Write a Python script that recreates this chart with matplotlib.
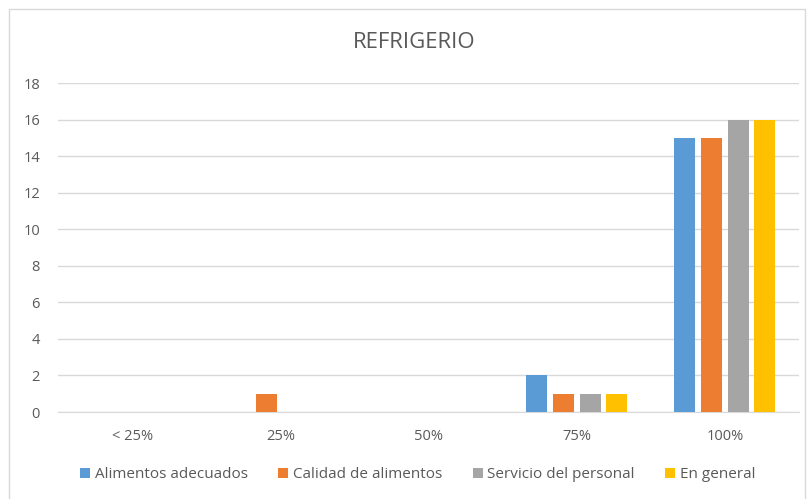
#!/usr/bin/env python3
import numpy as np
import matplotlib
matplotlib.use("Agg")
import matplotlib.pyplot as plt
from matplotlib.patches import Rectangle

categories = ["< 25%", "25%", "50%", "75%", "100%"]
alimentos_adecuados = [0, 0, 0, 2, 15]
calidad_alimentos = [0, 1, 0, 1, 15]
servicio_personal = [0, 0, 0, 1, 16]
en_general = [0, 0, 0, 1, 16]
series_names = ["Alimentos adecuados", "Calidad de alimentos",
                "Servicio del personal", "En general"]
y_ticks = [0, 2, 4, 6, 8, 10, 12, 14, 16, 18]


def main():
    plt.rcParams['font.family'] = ['Open Sans', 'DejaVu Sans']
    text_color = '#595959'
    colors = ['#5b9bd5', '#ed7d31', '#a5a5a5', '#ffc000']
    series = [alimentos_adecuados, calidad_alimentos, servicio_personal, en_general]

    fig = plt.figure(figsize=(8.08, 4.99), dpi=100)
    # outer chart border like the excel frame
    fig.patches.append(Rectangle((9 / 808, -0.01), 796 / 808, 1 - 9 / 499 + 0.01,
                                 transform=fig.transFigure, fill=False,
                                 edgecolor='#d9d9d9', linewidth=1))
    ax = fig.add_axes([58 / 808, 87 / 499, 741 / 808, 329 / 499])

    x = np.arange(len(categories))
    step = 0.18
    width = 0.142
    for i, (vals, name, color) in enumerate(zip(series, series_names, colors)):
        offset = (i - 1.5) * step
        ax.bar(x + offset, vals, width, color=color, label=name, zorder=3)

    ax.set_xlim(-0.5, len(categories) - 0.5)
    ax.set_ylim(0, 18)
    ax.set_yticks(y_ticks)
    ax.set_xticks(x)
    ax.set_xticklabels(categories)
    ax.grid(axis='y', color='#d9d9d9', linewidth=1, zorder=0)
    for side in ['top', 'right', 'left']:
        ax.spines[side].set_visible(False)
    ax.spines['bottom'].set_color('#d9d9d9')
    ax.tick_params(axis='both', length=0, colors=text_color, labelsize=10.5)
    ax.tick_params(axis='y', pad=13)
    ax.tick_params(axis='x', pad=12)

    fig.text(0.513, 1 - 43 / 499, "REFRIGERIO", ha='center', va='center',
             fontsize=16, color=text_color)

    fig.legend(loc='center', bbox_to_anchor=(0.517, 1 - 475 / 499), ncol=4,
               frameon=False, fontsize=11, labelcolor=text_color,
               handlelength=0.65, handleheight=0.65, handletextpad=0.3,
               columnspacing=2.0)

    fig.savefig("out.png", dpi=100)


if __name__ == "__main__":
    main()
